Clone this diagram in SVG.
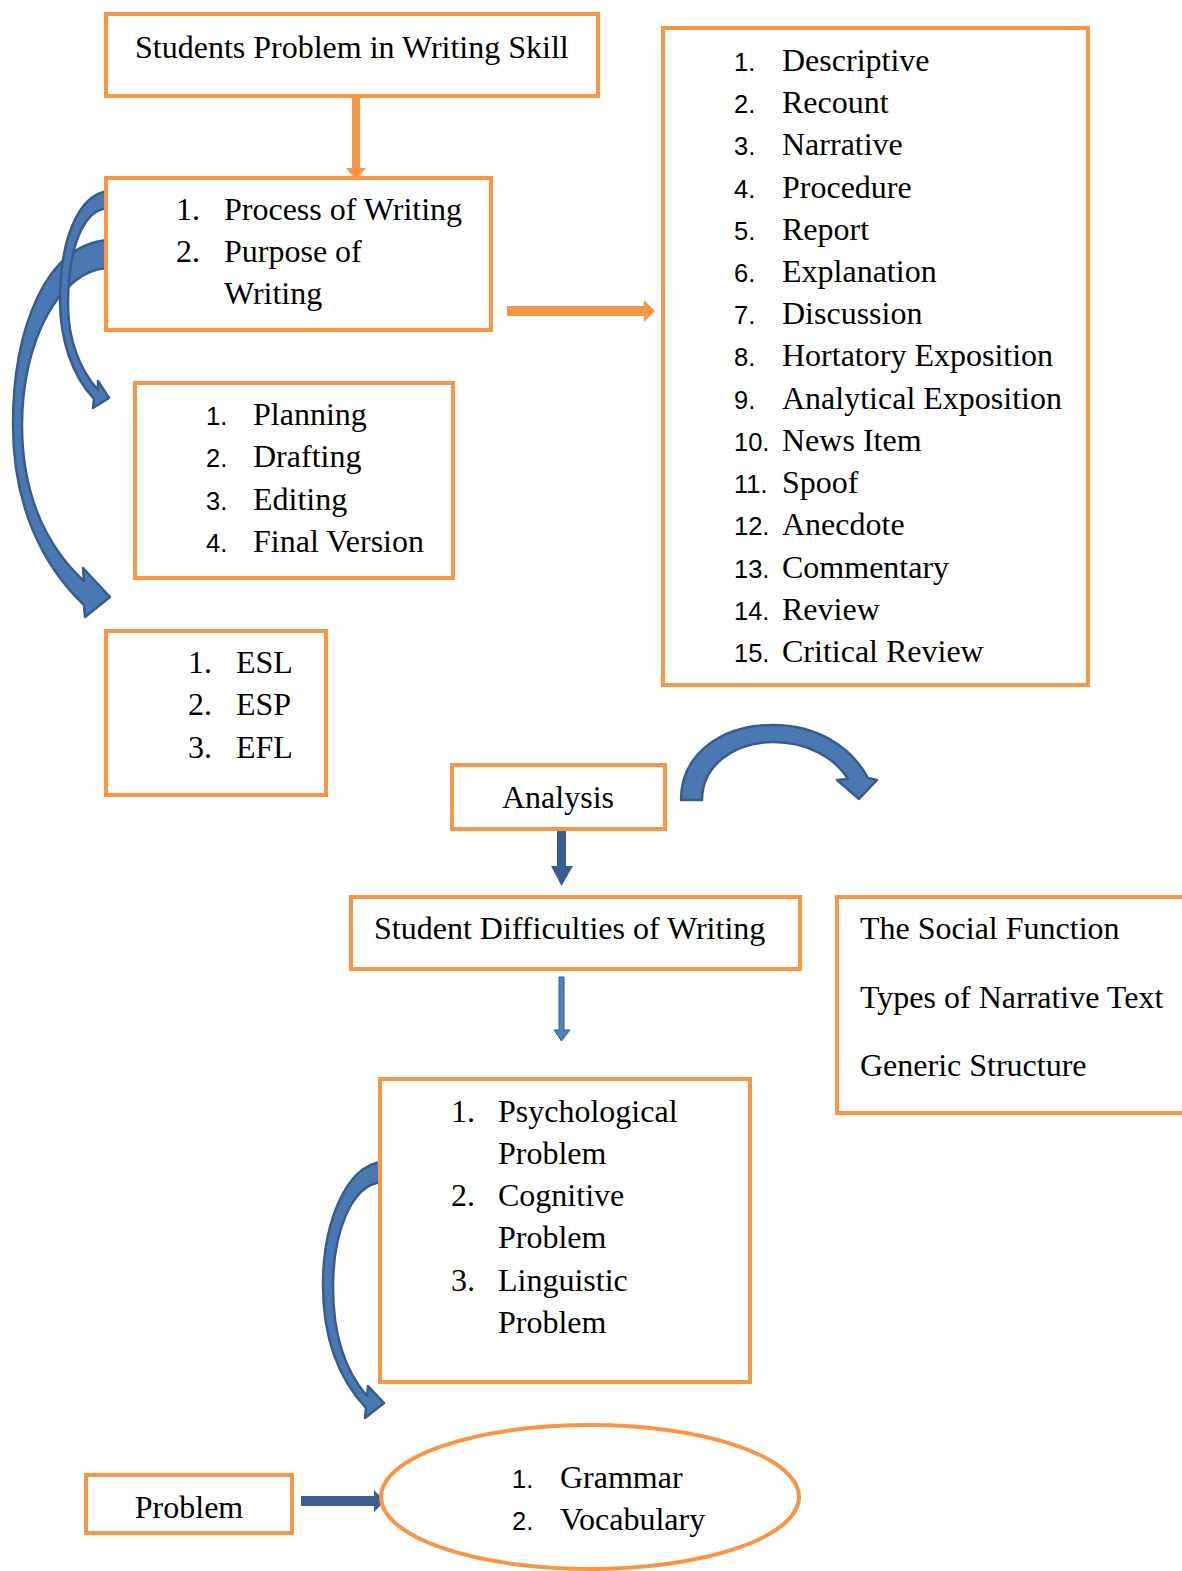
<svg xmlns="http://www.w3.org/2000/svg" width="1182" height="1571" viewBox="0 0 1182 1571">
<style>
.box{fill:#fff;stroke:#F79646;stroke-width:4}
.t{font-family:"Liberation Serif","Times New Roman",serif;font-size:32px;fill:#000}
.n{font-family:"Liberation Sans",Arial,sans-serif;font-size:25.5px;fill:#000}
.oa{fill:#F79646}
.ba{fill:#4A78B2;stroke:#385D8A;stroke-width:2.5;stroke-linejoin:round}
.bd{fill:#3B5E8E}
</style>
<rect width="1182" height="1571" fill="#fff"/>
<g id="connectors">
<path class="oa" d="M352,96 H360 V168 H366 L356,180 L346,168 H352 Z"/>
<path class="oa" d="M507,306 H644 V300 L655,311 L644,322 V316 H507 Z"/>
<path class="ba" d="M108,240 C45,245 13,330 13,425 C13,505 42,565 84,605 L85,617 L110,597 L83,568 L84,581 C50,550 22,500 22,425 C22,340 60,270 108,268 Z"/>
<path class="ba" d="M108,191 C78,195 60,240 60,300 C60,340 72,375 94,399 L93,408 L109,398 L98,381 L98,390 C80,370 68,340 68,305 C68,250 82,210 108,208 Z"/>
<path class="ba" d="M681,800 C681,755 720,725 773,725 C815,725 850,745 868,778 L877,780 L859,799 L837,780 L848,779 C835,758 808,742 773,742 C735,742 702,765 702,800 Z"/>
<path class="bd" d="M557,829 H566 V866 H573 L561.5,886 L551,866 H557 Z"/>
<path d="M559,977 H564 V1030 H570 L561.5,1041 L554,1030 H559 Z" fill="#4F81BD" stroke="#385D8A" stroke-width="1"/>
<path class="ba" d="M382,1162 C345,1166 323,1225 323,1285 C323,1340 340,1380 366,1408 L365,1418 L384,1403 L368,1386 L367,1396 C346,1372 333,1335 333,1287 C333,1235 350,1185 382,1182 Z"/>
<path class="bd" d="M301,1496 H374 V1490 L385,1501 L374,1512 V1506 H301 Z"/>
</g>
<g id="n1">
<rect class="box" x="106" y="14" width="492" height="82"/>
<text class="t" x="135" y="58">Students Problem in Writing Skill</text>
</g>
<g id="n2">
<rect class="box" x="106" y="178" width="385" height="152"/>
<text class="t" x="176" y="220">1.</text><text class="t" x="224" y="220">Process of Writing</text>
<text class="t" x="176" y="262">2.</text><text class="t" x="224" y="262">Purpose of</text>
<text class="t" x="224" y="304">Writing</text>
</g>
<g id="n3">
<rect class="box" x="663" y="28" width="425" height="657"/>
<text class="n" x="734" y="71">1.</text><text class="t" x="782" y="71">Descriptive</text>
<text class="n" x="734" y="113">2.</text><text class="t" x="782" y="113">Recount</text>
<text class="n" x="734" y="155">3.</text><text class="t" x="782" y="155">Narrative</text>
<text class="n" x="734" y="198">4.</text><text class="t" x="782" y="198">Procedure</text>
<text class="n" x="734" y="240">5.</text><text class="t" x="782" y="240">Report</text>
<text class="n" x="734" y="282">6.</text><text class="t" x="782" y="282">Explanation</text>
<text class="n" x="734" y="324">7.</text><text class="t" x="782" y="324">Discussion</text>
<text class="n" x="734" y="366">8.</text><text class="t" x="782" y="366">Hortatory Exposition</text>
<text class="n" x="734" y="409">9.</text><text class="t" x="782" y="409">Analytical Exposition</text>
<text class="n" x="734" y="451">10.</text><text class="t" x="782" y="451">News Item</text>
<text class="n" x="734" y="493">11.</text><text class="t" x="782" y="493">Spoof</text>
<text class="n" x="734" y="535">12.</text><text class="t" x="782" y="535">Anecdote</text>
<text class="n" x="734" y="578">13.</text><text class="t" x="782" y="578">Commentary</text>
<text class="n" x="734" y="620">14.</text><text class="t" x="782" y="620">Review</text>
<text class="n" x="734" y="662">15.</text><text class="t" x="782" y="662">Critical Review</text>
</g>
<g id="n4">
<rect class="box" x="135" y="383" width="318" height="195"/>
<text class="n" x="206" y="425">1.</text><text class="t" x="253" y="425">Planning</text>
<text class="n" x="206" y="467">2.</text><text class="t" x="253" y="467">Drafting</text>
<text class="n" x="206" y="510">3.</text><text class="t" x="253" y="510">Editing</text>
<text class="n" x="206" y="552">4.</text><text class="t" x="253" y="552">Final Version</text>
</g>
<g id="n5">
<rect class="box" x="106" y="631" width="220" height="164"/>
<text class="t" x="188" y="673">1.</text><text class="t" x="236" y="673">ESL</text>
<text class="t" x="188" y="715">2.</text><text class="t" x="236" y="715">ESP</text>
<text class="t" x="188" y="758">3.</text><text class="t" x="236" y="758">EFL</text>
</g>
<g id="n6">
<rect class="box" x="452" y="765" width="213" height="64"/>
<text class="t" x="558" y="808" text-anchor="middle">Analysis</text>
</g>
<g id="n7">
<rect class="box" x="351" y="897" width="449" height="72"/>
<text class="t" x="374" y="939">Student Difficulties of Writing</text>
</g>
<g id="n8">
<rect class="box" x="837" y="897" width="360" height="216"/>
<text class="t" x="860" y="939">The Social Function</text>
<text class="t" x="860" y="1008">Types of Narrative Text</text>
<text class="t" x="860" y="1076">Generic Structure</text>
</g>
<g id="n9">
<rect class="box" x="380" y="1079" width="370" height="303"/>
<text class="t" x="451" y="1122">1.</text><text class="t" x="498" y="1122">Psychological</text>
<text class="t" x="498" y="1164">Problem</text>
<text class="t" x="451" y="1206">2.</text><text class="t" x="498" y="1206">Cognitive</text>
<text class="t" x="498" y="1248">Problem</text>
<text class="t" x="451" y="1291">3.</text><text class="t" x="498" y="1291">Linguistic</text>
<text class="t" x="498" y="1333">Problem</text>
</g>
<g id="n10">
<rect class="box" x="86" y="1475" width="206" height="58"/>
<text class="t" x="189" y="1518" text-anchor="middle">Problem</text>
</g>
<g id="n11">
<ellipse class="box" cx="590" cy="1497" rx="209" ry="72"/>
<text class="n" x="512" y="1488">1.</text><text class="t" x="560" y="1488">Grammar</text>
<text class="n" x="512" y="1530">2.</text><text class="t" x="560" y="1530">Vocabulary</text>
</g>
</svg>
